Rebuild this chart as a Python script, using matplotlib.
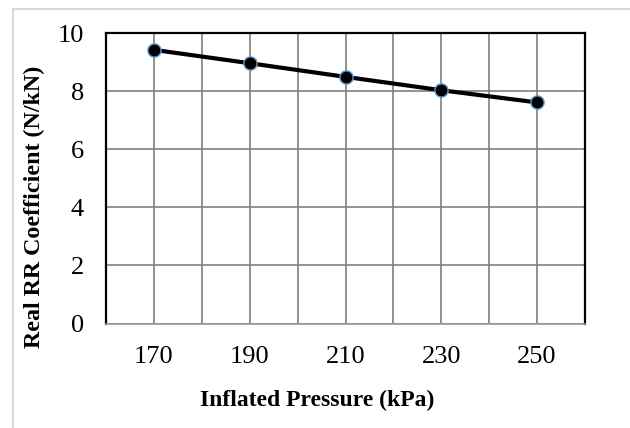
import matplotlib
matplotlib.use("Agg")
import matplotlib.pyplot as plt
from matplotlib.patches import Rectangle
import numpy as np

categories = ["170", "190", "210", "230", "250"]
values = [9.42, 8.96, 8.49, 8.03, 7.61]
yticks = [0, 2, 4, 6, 8, 10]

plt.rcParams['font.family'] = ['Liberation Serif', 'DejaVu Serif']

fig = plt.figure(figsize=(6.3, 4.28), dpi=100)
W, H = 630, 428
ax = fig.add_axes([106 / W, 1 - 323.5 / H, (585 - 106) / W, (323.5 - 33) / H])

# outer light border
fig.patches.append(Rectangle((13 / W, -0.05), 1.1, 1 - 9 / H + 0.05, transform=fig.transFigure,
                             fill=False, edgecolor='#d9d9d9', linewidth=1.5))

x = np.arange(len(categories))
ax.set_xlim(-0.5, len(categories) - 0.5)
ax.set_ylim(0, 10)
ax.set_yticks(yticks)
ax.set_xticks(x)
ax.set_xticklabels(categories)
ax.set_xticks(np.arange(-0.5, len(categories), 1.0), minor=True)

ax.grid(True, which='both', axis='x', color='#7f7f7f', linewidth=1.2)
ax.grid(True, which='major', axis='y', color='#7f7f7f', linewidth=1.2)
ax.set_axisbelow(True)

ax.plot(x, values, color='black', linewidth=3.0, zorder=3)
ax.plot(x, values, linestyle='none', marker='o', markersize=9.5,
        markerfacecolor='black', markeredgecolor='#5b9bd5', markeredgewidth=1.0, zorder=4)

for s in ['left', 'top', 'right']:
    ax.spines[s].set_color('black')
    ax.spines[s].set_linewidth(1.6)
ax.spines['bottom'].set_color('#999999')
ax.spines['bottom'].set_linewidth(1.2)

ax.tick_params(axis='both', which='both', length=0, labelsize=19)
ax.tick_params(axis='y', pad=16)
ax.tick_params(axis='x', pad=16)

fig.text(317 / W, 1 - 400 / H, "Inflated Pressure (kPa)", ha='center', va='center',
         fontsize=17, fontweight='bold')
fig.text(34 / W, 1 - 207 / H, "Real RR Coefficient (N/kN)", ha='center', va='center',
         rotation=90, fontsize=17.3, fontweight='bold')

fig.savefig("out.png", dpi=100)
